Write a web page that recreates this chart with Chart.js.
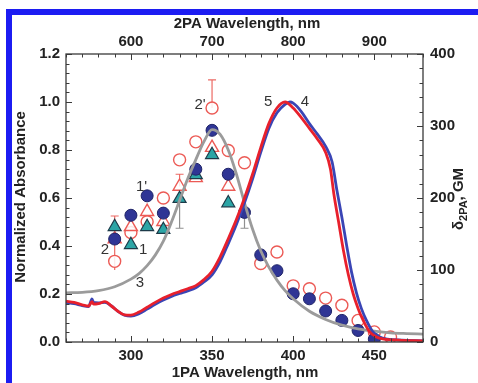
<!DOCTYPE html>
<html>
<head>
<meta charset="utf-8">
<script src="https://cdn.jsdelivr.net/npm/chart.js@4.4.1/dist/chart.umd.min.js"></script>
<style>
  html, body { margin: 0; padding: 0; background: #ffffff; }
  #wrap { position: relative; width: 478px; height: 383px; }
  canvas { display: block; }
</style>
</head>
<body>
<div id="wrap"><canvas id="chart" width="478" height="383"></canvas></div>
<script>
// ---- 1PA absorbance spectra (left axis, normalized) ----
const absRedX  = [260,265,270,274,276,277,280,284,288,292,296,300,305,310,315,320,325,330,335,340,345,350,355,360,365,370,375,380,385,390,395,400,405,410,415,420,423,425,428,431,434,437,440,443,447,451,456,465,480];
const absRedY  = [0.170,0.165,0.155,0.150,0.168,0.158,0.160,0.168,0.150,0.128,0.113,0.112,0.125,0.145,0.165,0.183,0.198,0.210,0.222,0.235,0.260,0.295,0.355,0.430,0.510,0.600,0.700,0.810,0.910,0.975,1.000,0.975,0.935,0.890,0.845,0.790,0.720,0.620,0.500,0.380,0.280,0.200,0.140,0.092,0.043,0.022,0.012,0.008,0.005];
const absBlueX = [260,265,270,274,276,277,280,284,288,292,296,300,305,310,315,320,325,330,335,340,345,350,355,360,365,370,375,380,385,390,395,398,400,405,410,415,420,424,427,430,433,436,439,442,445,449,453,458,467,480];
const absBlueY = [0.165,0.160,0.152,0.148,0.180,0.165,0.163,0.165,0.150,0.128,0.112,0.108,0.118,0.137,0.157,0.175,0.190,0.202,0.213,0.226,0.250,0.280,0.335,0.410,0.490,0.580,0.680,0.790,0.890,0.955,0.990,1.000,0.995,0.960,0.910,0.865,0.815,0.750,0.630,0.520,0.400,0.290,0.205,0.140,0.092,0.043,0.022,0.012,0.008,0.005];

// ---- curve 3 (left axis) ----
const curve3X = [260,270,280,290,300,305,310,315,320,325,330,335,340,345,350,355,360,365,370,375,380,385,390,395,400,410,420,430,440,450,460,470,480];
const curve3Y = [0.205,0.207,0.214,0.230,0.262,0.285,0.318,0.362,0.420,0.500,0.590,0.680,0.760,0.835,0.885,0.865,0.800,0.700,0.580,0.470,0.380,0.312,0.258,0.214,0.180,0.128,0.094,0.070,0.055,0.045,0.038,0.035,0.033];

// ---- 2PA cross sections, GM (right axis) ----
const s1pX  = [290,300,310,320,340,350,360,370,380,390,400,410,420,430,440,450];
const s1pGM = [143,176,203,179,240,294,233,180,121,99,67,60,43,30,16,4];
const s2pX  = [290,300,310,320,330,340,350,360,370,380,390,400,410,420,430,440,450,460];
const s2pGM = [112,152,167,200,253,278,325,266,249,109,125,78,74,61,51,30,14,7];
const s2X   = [290,300,310,320,330,340,350,360];
const s2GM  = [143,160,181,167,216,228,270,216];
const s1X   = [290,300,310,320,330,340,350,360];
const s1GM  = [160,135,160,156,199,232,260,193];

// error bars: wavelength, low, high (GM), which ends carry a cap
const errX    = [290,350,330,330,370];
const errLo   = [100,325,216,158,158];
const errHi   = [175,364,233,199,180];
const errCap  = ['top','top','top','bottom','bottom'];
const errTone = ['red','red','red','gray','gray'];

// curve / series tags placed in data units (nm, normalized absorbance)
const tagText = ["1'","2'","5","4","3","2","1"];
const tagX    = [306.6,342.6,384.6,407.3,305.6,284.0,307.6];
const tagY    = [0.647,0.988,1.001,1.000,0.245,0.383,0.383];

const FONT = '"Liberation Sans", Arial, Helvetica, sans-serif';

function pts(xs, ys) { return xs.map((x, i) => ({ x: x, y: ys[i] })); }

const decor = {
  id: 'decor',
  beforeDraw(chart) {
    const c = chart.ctx;
    c.save();
    c.fillStyle = '#ffffff';
    c.fillRect(0, 0, chart.width, chart.height);
    // blue page frame (top and left edges)
    c.fillStyle = '#1c1cf2';
    c.fillRect(6, 9, chart.width - 6, 6);
    c.fillRect(6, 9, 6, chart.height - 9);
    c.restore();
  },
  beforeDatasetsDraw(chart) {
    const c = chart.ctx, xs = chart.scales.x, ys = chart.scales.y2;
    c.save();
    c.lineWidth = 1.2;
    for (let i = 0; i < errX.length; i++) {
      const px = xs.getPixelForValue(errX[i]);
      const lo = ys.getPixelForValue(errLo[i]);
      const hi = ys.getPixelForValue(errHi[i]);
      c.strokeStyle = errTone[i] === 'red' ? '#ec6a64' : '#8f8f8f';
      c.beginPath();
      c.moveTo(px, lo); c.lineTo(px, hi);
      const cy = errCap[i] === 'top' ? hi : lo;
      c.moveTo(px - 4, cy); c.lineTo(px + 4, cy);
      c.stroke();
    }
    c.restore();
  },
  afterDatasetsDraw(chart) {
    const c = chart.ctx, a = chart.chartArea;
    const sx = chart.scales.x, sx2 = chart.scales.x2, sy = chart.scales.y, sy2 = chart.scales.y2;
    c.save();
    // plot frame
    c.strokeStyle = '#3a3a3a';
    c.lineWidth = 1.3;
    c.strokeRect(a.left, a.top, a.right - a.left, a.bottom - a.top);
    c.lineWidth = 1;
    c.beginPath();
    // bottom ticks: every 10 nm, long every 50
    for (let v = 260; v <= 480; v += 10) {
      const p = Math.round(sx.getPixelForValue(v)) + 0.5;
      const L = v % 50 === 0 ? 6 : 3.5;
      c.moveTo(p, a.bottom); c.lineTo(p, a.bottom - L);
    }
    // top ticks: every 20 nm, long every 100
    for (let v = 520; v <= 960; v += 20) {
      const p = Math.round(sx2.getPixelForValue(v)) + 0.5;
      const L = v % 100 === 0 ? 6 : 3.5;
      c.moveTo(p, a.top); c.lineTo(p, a.top + L);
    }
    // left ticks: every 0.04, long every 0.2
    for (let k = 0; k <= 30; k++) {
      const p = Math.round(sy.getPixelForValue(k * 0.04)) + 0.5;
      const L = k % 5 === 0 ? 6 : 3.5;
      c.moveTo(a.left, p); c.lineTo(a.left + L, p);
    }
    // right ticks: every 20 GM, long every 100
    for (let v = 0; v <= 400; v += 20) {
      const p = Math.round(sy2.getPixelForValue(v)) + 0.5;
      const L = v % 100 === 0 ? 6 : 3.5;
      c.moveTo(a.right, p); c.lineTo(a.right - L, p);
    }
    c.stroke();

    // axis titles
    c.fillStyle = '#222';
    c.font = 'bold 15px ' + FONT;
    c.textAlign = 'center';
    c.textBaseline = 'middle';
    c.fillText('2PA Wavelength, nm', 247, 24);
    c.fillText('1PA Wavelength, nm', 245, 373);
    c.save();
    c.translate(21, 197);
    c.rotate(-Math.PI / 2);
    c.fillText('Normalized Absorbance', 0, 0);
    c.restore();

    // right title with subscript
    c.save();
    c.translate(458, 199);
    c.rotate(-Math.PI / 2);
    c.textAlign = 'left';
    c.textBaseline = 'alphabetic';
    const big = 'bold 15px ' + FONT, small = 'bold 11px ' + FONT;
    c.font = big;  const w1 = c.measureText('\u03b4').width;
    c.font = small; const w2 = c.measureText('2PA').width;
    c.font = big;  const w3 = c.measureText(', GM').width;
    let x0 = -(w1 + w2 + w3) / 2;
    c.font = big;  c.fillText('\u03b4', x0, 5);
    c.font = small; c.fillText('2PA', x0 + w1, 9);
    c.font = big;  c.fillText(', GM', x0 + w1 + w2, 5);
    c.restore();

    // series tags
    c.font = '15px ' + FONT;
    c.fillStyle = '#333';
    c.textAlign = 'center';
    c.textBaseline = 'middle';
    for (let i = 0; i < tagText.length; i++) {
      c.fillText(tagText[i], sx.getPixelForValue(tagX[i]), sy.getPixelForValue(tagY[i]));
    }
    c.restore();
  }
};

const tickFont = { family: FONT, size: 15, weight: 'bold' };

new Chart(document.getElementById('chart'), {
  type: 'scatter',
  data: {
    datasets: [
      { label: '5', data: pts(absRedX, absRedY), showLine: true, borderColor: '#e8202c', borderWidth: 2.8,
        pointRadius: 0, cubicInterpolationMode: 'monotone', yAxisID: 'y', order: 1 },
      { label: '4', data: pts(absBlueX, absBlueY), showLine: true, borderColor: '#3a45b5', borderWidth: 2.8,
        pointRadius: 0, cubicInterpolationMode: 'monotone', yAxisID: 'y', order: 2 },
      { label: '3', data: pts(curve3X, curve3Y), showLine: true, borderColor: '#9b9b9b', borderWidth: 2.8,
        pointRadius: 0, cubicInterpolationMode: 'monotone', yAxisID: 'y', order: 3 },
      { label: "1'", data: pts(s1pX, s1pGM), yAxisID: 'y2', pointStyle: 'circle', pointRadius: 6,
        backgroundColor: '#2f3595', borderColor: '#1f2468', borderWidth: 1, order: 4 },
      { label: '1', data: pts(s1X, s1GM), yAxisID: 'y2', pointStyle: 'triangle', pointRadius: 7.5,
        backgroundColor: '#2ca5a6', borderColor: '#1c3a48', borderWidth: 1.2, order: 5 },
      { label: '2', data: pts(s2X, s2GM), yAxisID: 'y2', pointStyle: 'triangle', pointRadius: 7.5,
        backgroundColor: 'rgba(255,255,255,0.85)', borderColor: '#ec5a55', borderWidth: 1.4, order: 6 },
      { label: "2'", data: pts(s2pX, s2pGM), yAxisID: 'y2', pointStyle: 'circle', pointRadius: 6,
        backgroundColor: 'rgba(255,255,255,0.85)', borderColor: '#ec5a55', borderWidth: 1.4, order: 7 }
    ]
  },
  options: {
    responsive: false,
    animation: false,
    devicePixelRatio: 1,
    layout: { padding: 0 },
    plugins: { legend: { display: false }, tooltip: { enabled: false } },
    scales: {
      x: {
        type: 'linear', position: 'bottom', min: 260, max: 480,
        grid: { display: false, drawTicks: false }, border: { display: false },
        ticks: { stepSize: 50, includeBounds: false, font: tickFont, color: '#222', padding: 5,
                 callback: v => String(v) },
        afterFit: s => { s.height = 41; }
      },
      x2: {
        type: 'linear', position: 'top', min: 520, max: 960,
        grid: { display: false, drawTicks: false }, border: { display: false },
        ticks: { stepSize: 100, includeBounds: false, font: tickFont, color: '#222', padding: 3,
                 callback: v => String(v) },
        afterFit: s => { s.height = 54; }
      },
      y: {
        type: 'linear', position: 'left', min: 0, max: 1.2,
        grid: { display: false, drawTicks: false }, border: { display: false },
        ticks: { stepSize: 0.2, font: tickFont, color: '#222', padding: 6,
                 callback: v => Number(v).toFixed(1) },
        afterFit: s => { s.width = 66; }
      },
      y2: {
        type: 'linear', position: 'right', min: 0, max: 400,
        grid: { display: false, drawTicks: false }, border: { display: false },
        ticks: { stepSize: 100, font: tickFont, color: '#222', padding: 7,
                 callback: v => String(v) },
        afterFit: s => { s.width = 55; }
      }
    }
  },
  plugins: [decor]
});
</script>
</body>
</html>
